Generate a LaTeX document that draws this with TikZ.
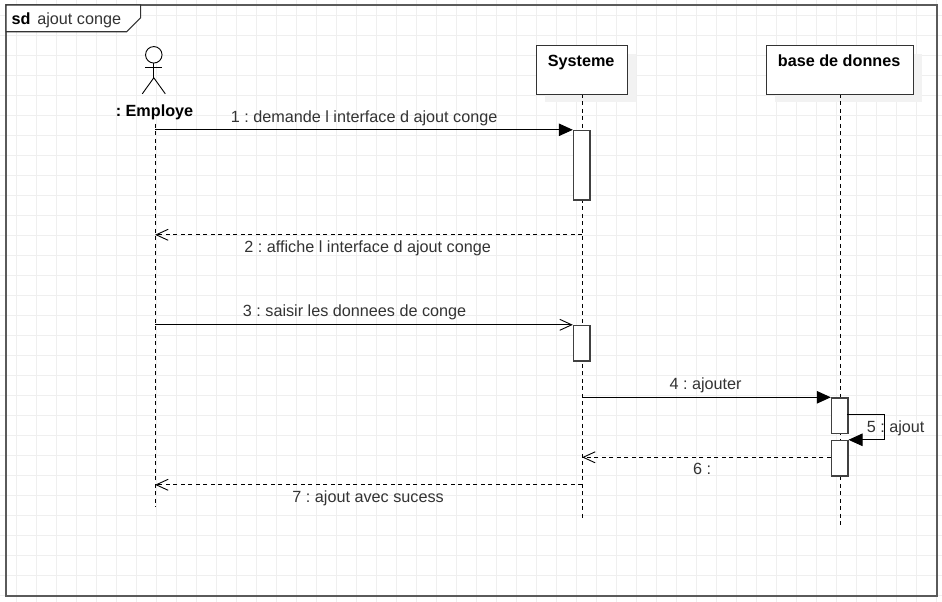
\documentclass[tikz,border=0pt]{standalone}
\usepackage{fontspec}
\setmainfont{Liberation Sans}
\usetikzlibrary{arrows.meta}
\definecolor{gridc}{HTML}{EFEFEF}
\definecolor{framec}{HTML}{5A5A5A}
\definecolor{shadowc}{HTML}{F2F2F2}
\definecolor{textc}{HTML}{333333}
\frenchspacing
\tikzset{
  lbl/.style={font=\frenchspacing\fontsize{16.2}{18}\selectfont, text=textc, inner sep=0pt, anchor=base, xshift=1pt, yshift=-1pt},
  hdr/.style={font=\frenchspacing\fontsize{16.2}{18}\selectfont\bfseries, text=black, inner sep=0pt, anchor=base, xshift=1pt, yshift=-1pt},
  lifebox/.style={draw=black!80, line width=1.2pt, fill=white, inner sep=0pt},
  lifeline/.style={draw=black, line width=1pt, dash pattern=on 4pt off 3.5pt},
  activation/.style={draw=black!75, line width=1.2pt, fill=white, inner sep=0pt},
  syncmsg/.style={draw=black, line width=1pt, -{Triangle[length=14pt,width=12.5pt]}},
  openmsg/.style={draw=black, line width=1pt, -{Straight Barb[length=12pt,width=11pt,line width=0.9pt]}},
  retmsg/.style={draw=black, line width=1pt, dash pattern=on 4pt off 3.5pt, -{Straight Barb[length=12pt,width=11pt,line width=0.9pt]}},
  actorline/.style={draw=black, line width=0.9pt},
}
\begin{document}
\begin{tikzpicture}[x=1pt,y=-1pt]
\useasboundingbox (0,0) rectangle (942,602);
\fill[white] (0,0) rectangle (942,602);
\begin{scope}[xshift=-0.4pt,yshift=0.2pt]
% grid
\foreach \gx in {16.9,36.9,...,936.9} \draw[gridc,line width=0.9pt] (\gx,0.2) -- (\gx,602.2);
\foreach \gy in {15.2,35.2,...,595.2} \draw[gridc,line width=0.9pt] (0.4,\gy) -- (942.4,\gy);
% frame
\node[draw=framec,line width=1.8pt,minimum width=930.5pt,minimum height=590.5pt,anchor=north west,inner sep=0pt] (frame) at (5.6,4.4) {};
\coordinate (tabA) at (6.5,32);
\coordinate (tabB) at (127,32);
\coordinate (tabC) at (141,18);
\coordinate (tabD) at (141,5.3);
\coordinate (tabE) at (6.5,5.3);
\draw[draw=black!80,line width=1.2pt,fill=white] (tabE) -- (tabA) -- (tabB) -- (tabC) -- (tabD) -- cycle;
\node[hdr] (sd) at (20.5,23.6) {sd};
\node[lbl,anchor=base west] (title) at (36.5,23.6) {ajout conge};
% shadows
\fill[shadowc] (545,54) rectangle (636,102);
\fill[shadowc] (775,54) rectangle (922,102);
% lifelines
\coordinate (e0) at (155.5,124);
\coordinate (e1) at (155.5,507);
\coordinate (s0) at (582.5,94);
\coordinate (s1) at (582.5,520);
\coordinate (b0) at (840.5,94);
\coordinate (b1) at (840.5,526);
\draw[lifeline] (e0) -- (e1);
\draw[lifeline] (s0) -- (s1);
\draw[lifeline] (b0) -- (b1);
% actor
\node[draw=black,line width=0.9pt,circle,minimum size=16.5pt,inner sep=0pt,fill=white] (head) at (154.2,55) {};
\coordinate (hip) at (154.2,78);
\coordinate (armL) at (145.7,68);
\coordinate (armR) at (162.7,68);
\coordinate (footL) at (142.7,94);
\coordinate (footR) at (165.7,94);
\draw[actorline] (head.south) -- (hip);
\draw[actorline] (armL) -- (armR);
\draw[actorline] (footL) -- (hip) -- (footR);
\node[hdr] (emp) at (153.9,116) {: Employe};
% lifeline heads
\node[lifebox,minimum width=91pt,minimum height=49pt,anchor=north west] (sys) at (536,45) {};
\node[hdr] at (580.5,66) {Systeme};
\node[lifebox,minimum width=147pt,minimum height=49pt,anchor=north west] (bdd) at (766,45) {};
\node[hdr] at (838.5,66) {base de donnes};
% activations
\node[activation,minimum width=16.5pt,minimum height=69.5pt,anchor=north west] (a1) at (573.2,130) {};
\node[activation,minimum width=16.5pt,minimum height=35.5pt,anchor=north west] (a2) at (573.2,325) {};
\node[activation,minimum width=16.5pt,minimum height=35.5pt,anchor=north west] (a3) at (831.2,397.5) {};
\node[activation,minimum width=16.5pt,minimum height=35.5pt,anchor=north west] (a4) at (831.2,440) {};
% messages
\coordinate (m1) at (155.5,130);
\draw[syncmsg] (m1) -- (a1.north west);
\node[lbl] at (363.5,122) {1 : demande l interface d ajout conge};
\coordinate (m2s) at (582.5,235);
\coordinate (m2e) at (155.5,235);
\draw[retmsg] (m2s) -- (m2e);
\node[lbl] at (367,252) {2 : affiche l interface d ajout conge};
\coordinate (m3) at (155.5,325);
\draw[openmsg] (m3) -- (a2.north west);
\node[lbl] at (354,316) {3 : saisir les donnees de conge};
\coordinate (m4) at (582.5,397.5);
\draw[syncmsg] (m4) -- (a3.north west);
\node[lbl] at (705,389) {4 : ajouter};
\coordinate (m5a) at (885,415);
\coordinate (m5b) at (885,440);
\coordinate (m5s) at (847.7,415);
\draw[syncmsg] (m5s) -- (m5a) -- (m5b) -- (a4.north east);
\node[lbl] at (895,431.5) {5 : ajout};
\coordinate (m6e) at (582.5,457.5);
\coordinate (m6s) at (831.2,457.5);
\draw[retmsg] (m6s) -- (m6e);
\node[lbl] at (701.5,474) {6 :};
\coordinate (m7s) at (582.5,485);
\coordinate (m7e) at (155.5,485);
\draw[retmsg] (m7s) -- (m7e);
\node[lbl] at (367.5,502) {7 : ajout avec sucess};
\end{scope}
\end{tikzpicture}
\end{document}
